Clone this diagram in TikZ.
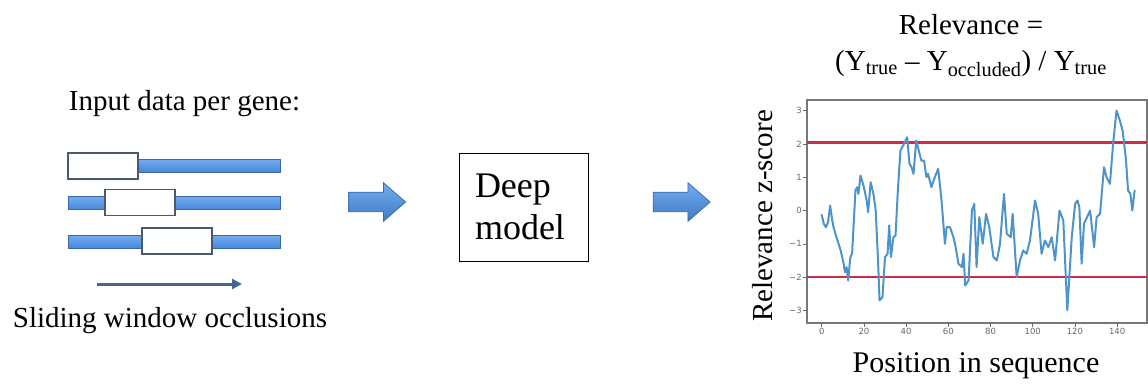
\documentclass[tikz,border=0pt]{standalone}
\usepackage{fontspec}
\setmainfont{Liberation Serif}
\newfontfamily\ticksf{DejaVu Sans}
\usetikzlibrary{shapes.arrows,arrows.meta}
\definecolor{barblue}{RGB}{70,136,218}
\definecolor{barlight}{RGB}{115,172,240}
\definecolor{barline}{RGB}{58,104,170}
\definecolor{winline}{RGB}{75,88,110}
\definecolor{arrowdark}{RGB}{70,102,152}
\definecolor{curveblue}{RGB}{78,148,202}
\definecolor{redline}{RGB}{205,45,72}
\definecolor{tickgray}{RGB}{105,105,105}
\definecolor{framegray}{RGB}{120,120,120}
\begin{document}
\begin{tikzpicture}[x=1pt,y=-1pt,
  lbl/.style={font=\fontsize{29}{34}\selectfont, inner sep=0},
  gbar/.style={draw=barline, line width=0.6pt, top color=barlight, bottom color=barblue, minimum height=13pt, inner sep=0, anchor=west},
  window/.style={draw=winline, fill=white, line width=1.2pt, minimum width=70pt, minimum height=26pt, inner sep=0},
  blockarrow/.style={single arrow, single arrow head extend=9.5pt, single arrow tip angle=82, minimum height=57pt, inner xsep=0pt, inner ysep=9.5pt, top color=barlight, bottom color=barblue!90!black, draw=barline, line width=0.7pt},
  slide/.style={draw=arrowdark, line width=3pt, -{Triangle[length=10pt,width=10pt]}},
  ytick/.style={font=\ticksf\fontsize{8.5}{9}\selectfont, text=tickgray, anchor=east, inner sep=1pt},
  xtick/.style={font=\ticksf\fontsize{8.5}{9}\selectfont, text=tickgray, anchor=north, inner sep=1pt},
  tickmark/.style={draw=tickgray, line width=0.6pt},
  redl/.style={draw=redline, line width=2.5pt},
  curve/.style={draw=curveblue, line width=2pt, line join=round, line cap=round},
]
\useasboundingbox[fill=white] (0,0) rectangle (1148,385);

% left part
\node[lbl, anchor=base] (intitle) at (184.5,111) {Input data per gene:};
\node[gbar, minimum width=142pt] (bar1) at (138,165.5) {};
\node[window] (win1) at (103,166) {};
\node[gbar, minimum width=212pt] (bar2) at (68,203) {};
\node[window] (win2) at (140,202.5) {};
\node[gbar, minimum width=212pt] (bar3) at (68,241.5) {};
\node[window] (win3) at (177,241) {};
\coordinate (sa) at (97,284);
\coordinate (sb) at (242,284);
\draw[slide] (sa) -- (sb);
\node[lbl, anchor=base] (slidelbl) at (170,327) {Sliding window occlusions};

% arrows and model
\node[blockarrow] (ar1) at (371.5,202) {};
\node[draw, line width=1pt, minimum width=129pt, minimum height=108pt, text width=97pt, align=left, inner xsep=16pt, font=\fontsize{36}{42}\selectfont] (model) at (523.5,207) {Deep\\model};
\node[blockarrow] (ar2) at (676,202) {};

% right part
\node[font=\fontsize{29}{36}\selectfont, align=center, inner sep=0] (title) at (971,46) {Relevance =\\(Y\textsubscript{true} – Y\textsubscript{occluded}) / Y\textsubscript{true}};

\node[draw=framegray, line width=1.2pt, minimum width=340pt, minimum height=223pt, inner sep=0] (axes) at (977,211.5) {};

% y ticks
\foreach \v/\t in {3/3,2/2,1/1,0/0,-1/−1,-2/−2,-3/−3}{
  \coordinate (yt\v) at (807,210.5-33.3*\v);
  \draw[tickmark] (yt\v) -- ++(-4,0) node[ytick] {\t};
}
% x ticks
\foreach \d in {0,20,40,60,80,100,120,140}{
  \coordinate (xt\d) at (821.7+2.11*\d,323);
  \draw[tickmark] (xt\d) -- ++(0,4) node[xtick] {\d};
}

\coordinate (r2a) at (807,142.7);
\coordinate (r2b) at (1147,142.7);
\coordinate (r3a) at (807,277.2);
\coordinate (r3b) at (1147,277.2);
\draw[redl] (r2a) -- (r2b);
\draw[redl] (r3a) -- (r3b);

\begin{scope}[shift={(821.7,210.5)}, x=2.11pt, y=33.3pt]
\draw[curve] plot coordinates {(0,-0.13) (1,-0.4) (2,-0.5) (3,-0.35) (4,0.15) (5,-0.3) (5.6,-0.5) (7,-0.8) (9,-1.2) (10.4,-1.6) (11,-1.85) (11.8,-1.7) (12.5,-2.1) (13.6,-1.4) (14.4,-1.3) (16,0.6) (16.8,0.7) (17.4,0.5) (18.4,1.05) (20,0.7) (21.3,0.3) (22,-0.05) (23.2,0.85) (24.5,0.5) (25.6,0) (26.7,-1.5) (27.4,-2.7) (28.8,-2.6) (30,-1.4) (31.2,-1.3) (32,-0.45) (32.8,-1.4) (34,-0.8) (35,-0.75) (36,0.5) (37.3,1.8) (39,2.0) (40.5,2.2) (41.6,1.4) (42.6,1.3) (43.5,1.1) (44.8,2.1) (46,1.8) (47.2,1.5) (48.5,1.5) (49.6,1.0) (50.4,1.1) (52,0.7) (53.6,1.0) (55.2,1.25) (56.8,0.3) (58.4,-1.0) (59.2,-0.5) (60.8,-0.5) (62.4,-0.8) (63.2,-1.0) (64.8,-1.6) (66.4,-1.7) (67.2,-1.3) (68,-2.25) (69.6,-2.1) (71.2,0.0) (72.3,0.2) (73.4,-1.7) (74.7,-0.2) (76.3,-1.0) (77.9,-0.1) (79.4,-0.5) (81.4,-1.4) (83,-1.5) (84.5,-1.0) (86.4,0.5) (87.7,-0.7) (89.6,-0.8) (90.5,-0.1) (92.4,-2.0) (94,-1.5) (95.5,-1.2) (97.1,-1.3) (98.7,-0.9) (101.1,0.3) (102.6,-0.1) (104.2,-1.3) (105.8,-0.9) (107.4,-1.1) (109,-0.8) (110.6,-1.5) (112.7,0.0) (114.5,-0.3) (116.4,-3.0) (118.5,-0.8) (120.1,0.2) (121.2,0.3) (122.1,0.1) (123.2,-1.6) (124.3,-0.4) (127.2,0.0) (129.1,-1.1) (130.3,-0.2) (131.9,-0.1) (133.8,1.3) (135,1.0) (136.6,0.8) (138.1,2.0) (139.7,3.0) (141.3,2.7) (142.6,2.4) (144.1,1.6) (145.2,0.6) (146.3,0.5) (147.2,0.0) (148.3,0.6)};
\end{scope}

\node[lbl, rotate=90] (ylab) at (763,216) {Relevance z-score};
\node[lbl, font=\fontsize{30}{34}\selectfont] (xlab) at (976,366) {Position in sequence};
\end{tikzpicture}
\end{document}
